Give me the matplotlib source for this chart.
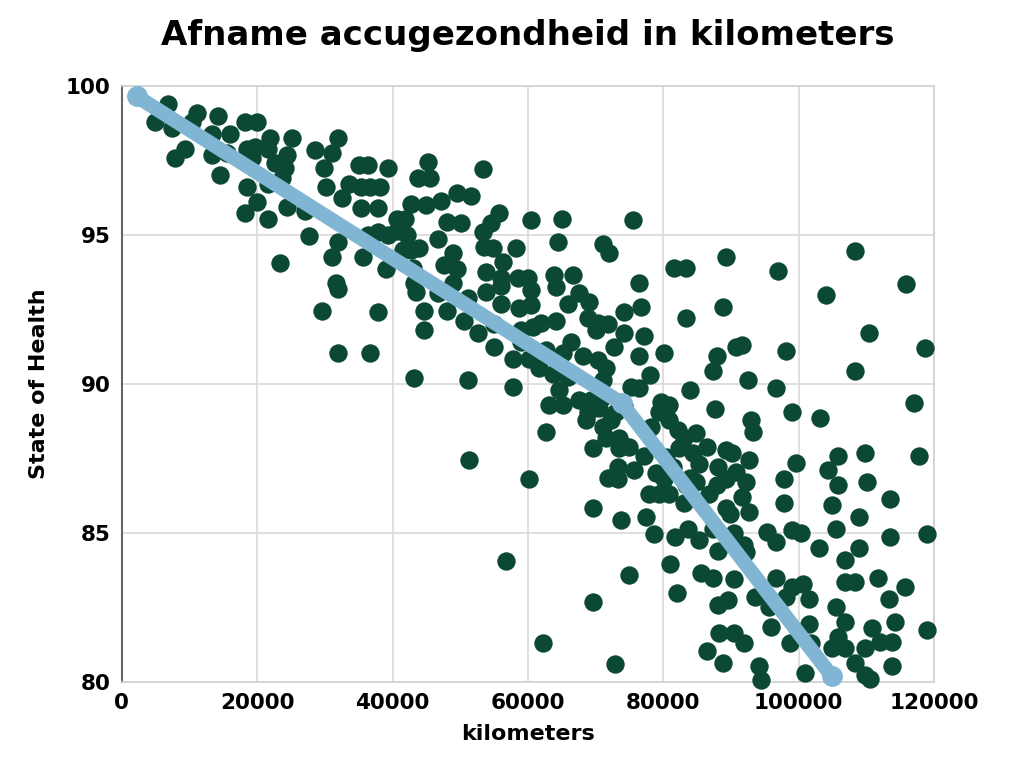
import matplotlib.pyplot as plt

# measured points (kilometers, state of health %)
km = [
    6800, 4900, 7400, 11100, 10400, 9300, 7900, 14200, 13300, 16000,
    13300, 15600, 14500, 18200, 20000, 18500, 19700, 19300, 21900, 21600,
    25200, 24400, 22700, 24100, 23700, 18500, 21600, 20000, 18200, 21600,
    24400, 27100, 28600, 27600, 23400,
    31900, 31100, 29800, 30100, 35000, 36400, 39300, 33500, 32600, 35300,
    36700, 38200, 35300, 37800, 45200, 43700, 45600, 53300, 42700, 44900,
    47100, 49600, 51600, 40700, 41900, 48100, 50100, 55700, 54500, 60400,
    31900, 31100, 35700, 37900, 36400, 39300, 40700, 42200, 41600, 43900,
    42700, 46700, 49000, 47600, 49600, 39000, 43000, 53300, 53500, 54800,
    56300, 58200, 53800, 56000, 58500, 60000, 31600, 43100,
    65000, 75600, 64400, 71100, 72000, 81600, 83300, 89300, 63900, 66700,
    76400, 96900, 108300, 115900,
    31900, 29600, 37800, 31900, 36700, 43400, 44600, 44600, 46700, 49000,
    48100, 50500, 51100, 52600, 53800, 56000, 56000, 58700, 55000, 55000,
    57800, 59000, 59000, 60100, 43100, 51100, 57800, 51300, 60100, 56700,
    60400, 64100, 60400, 65900, 67600, 69000, 76700, 74200, 88900, 83400,
    60700, 61900, 64100, 68900, 70400, 71900, 70100, 74200, 77200, 72700,
    66400, 65200, 68100, 70400, 71600, 76400, 80100, 78100, 87900, 87400,
    90800, 62700, 61600, 63700, 65900, 71100, 75300, 76400, 83900, 64600,
    63100, 65200, 67600, 69300, 71100, 68900, 70500, 73000, 74200, 79700,
    80900, 87600, 79400, 80900, 72300, 71100, 68600, 78200, 82200, 84900,
    62700, 69600, 71600, 73500, 75000, 73500, 77200, 83000, 82400, 84400,
    86400, 89300, 80400, 81500, 85300, 88100, 73300, 75700, 79000, 71900,
    89300, 83900,
    73300, 77900, 79400, 80900, 80100, 83400, 84900, 87900, 86700, 83100,
    89300, 89800, 69600, 73800, 77500, 78700, 81800, 83700, 85300, 87400,
    88100, 81000, 85600, 87400, 90500, 75000, 82100, 88100, 89600, 69600,
    62200, 72900, 88300, 90400, 86400, 88900,
    104100, 110400, 118700, 108300, 91700, 98100, 92600, 96700, 99000, 103100,
    117000, 93000, 93300, 90100, 92700, 99600, 105900, 109800, 117800, 104300,
    90800, 92300, 97800, 105900, 110100,
    113500, 91600, 92700, 97800, 104900, 109000, 105600, 90400, 95300, 96700,
    99000, 100400, 92000, 92300, 103000, 106800, 109000, 113500, 119000, 96700,
    99000, 100700, 101600, 98200, 93500, 95600, 106800, 108300, 111700, 115700,
    113300, 105600, 106800, 92000, 96000, 98700, 101500, 101900, 105900, 104900,
    106800, 109800, 110800, 114200, 112000, 113800, 119000, 94200, 94500, 100900,
    108300, 109800, 110500, 113800,
]
soh = [
    99.4, 98.8, 98.6, 99.1, 98.8, 97.9, 97.6, 99.0, 98.4, 98.4,
    97.7, 97.75, 97.0, 98.8, 98.8, 97.9, 97.95, 97.6, 98.25, 97.9,
    98.25, 97.7, 97.4, 97.25, 96.9, 96.6, 96.7, 96.1, 95.75, 95.55,
    95.95, 95.8, 97.85, 94.95, 94.05,
    98.25, 97.75, 97.25, 96.6, 97.35, 97.35, 97.25, 96.7, 96.25, 96.6,
    96.6, 96.6, 95.9, 95.9, 97.45, 96.9, 96.9, 97.2, 96.05, 96.0,
    96.15, 96.4, 96.3, 95.55, 95.55, 95.45, 95.4, 95.75, 95.4, 95.5,
    94.75, 94.25, 94.25, 95.1, 95.0, 95.0, 95.15, 95.0, 94.5, 94.55,
    94.5, 94.85, 94.4, 94.0, 93.85, 93.85, 93.9, 95.1, 94.6, 94.55,
    94.1, 94.55, 93.75, 93.55, 93.55, 93.55, 93.4, 93.4,
    95.55, 95.5, 94.75, 94.7, 94.4, 93.9, 93.9, 94.25, 93.65, 93.65,
    93.4, 93.8, 94.45, 93.35,
    93.2, 92.45, 92.4, 91.05, 91.05, 93.1, 92.45, 91.8, 93.05, 93.4,
    92.45, 92.1, 92.9, 91.7, 93.1, 92.7, 93.3, 92.55, 92.0, 91.25,
    90.85, 91.8, 91.4, 90.85, 90.2, 90.15, 89.9, 87.45, 86.8, 84.05,
    93.15, 93.25, 92.65, 92.7, 93.05, 92.75, 92.6, 92.4, 92.6, 92.2,
    91.9, 92.05, 92.1, 92.2, 92.05, 92.0, 91.8, 91.7, 91.6, 91.25,
    91.4, 91.05, 90.95, 90.8, 90.55, 90.95, 91.05, 90.3, 90.95, 90.45,
    91.25, 91.15, 90.55, 90.35, 90.25, 90.15, 89.9, 89.85, 89.8, 89.8,
    89.3, 89.3, 89.45, 89.45, 89.55, 89.05, 89.2, 89.05, 89.25, 89.4,
    89.3, 89.15, 89.05, 88.8, 88.8, 88.55, 88.8, 88.55, 88.45, 88.35,
    88.4, 87.85, 88.2, 88.2, 87.9, 87.85, 87.6, 88.2, 87.85, 87.7,
    87.9, 87.8, 87.55, 87.2, 87.3, 87.2, 87.2, 87.1, 87.0, 86.85,
    86.8, 86.85,
    86.8, 86.3, 86.3, 86.3, 86.8, 86.6, 86.7, 86.6, 86.3, 86.0,
    85.85, 85.65, 85.85, 85.45, 85.55, 84.95, 84.85, 85.15, 84.75, 85.15,
    84.4, 83.95, 83.65, 83.5, 83.45, 83.6, 83.0, 82.6, 82.75, 82.7,
    81.3, 80.6, 81.65, 81.65, 81.05, 80.65,
    93.0, 91.7, 91.2, 90.45, 91.3, 91.1, 90.15, 89.85, 89.05, 88.85,
    89.35, 88.8, 88.4, 87.7, 87.45, 87.35, 87.6, 87.7, 87.6, 87.1,
    87.05, 86.7, 86.8, 86.6, 86.7,
    86.15, 86.2, 85.7, 86.0, 85.95, 85.55, 85.15, 85.0, 85.05, 84.7,
    85.1, 85.0, 84.6, 84.35, 84.5, 84.1, 84.5, 84.85, 84.95, 83.5,
    83.2, 83.3, 82.8, 82.85, 82.85, 82.5, 83.35, 83.35, 83.5, 83.2,
    82.8, 82.5, 82.0, 81.3, 81.85, 81.3, 81.95, 81.3, 81.5, 81.15,
    81.15, 81.15, 81.8, 82.0, 81.35, 81.35, 81.75, 80.55, 80.05, 80.3,
    80.65, 80.25, 80.1, 80.55,
]

# trend line
trend_km = [2200, 73900, 104900]
trend_soh = [99.65, 89.35, 80.2]

dot_color = "#0b4935"
line_color = "#80b6d4"

fig = plt.figure(figsize=(10.24, 7.68), dpi=100)
ax = fig.add_axes([0.119, 0.112, 0.793, 0.776])

ax.scatter(km, soh, s=175, color=dot_color, linewidths=0, zorder=3, clip_on=False)
ax.plot(trend_km, trend_soh, color=line_color, linewidth=10.5,
        solid_capstyle="round", solid_joinstyle="round",
        marker="o", markersize=14, zorder=4, clip_on=False)

ax.set_xlim(0, 120000)
ax.set_ylim(80, 100)
ax.set_xticks(range(0, 120001, 20000))
ax.set_yticks(range(80, 101, 5))
ax.grid(True, color="#d9d9d9", linewidth=1.2)
ax.set_axisbelow(True)
ax.tick_params(length=0, labelsize=15.5, pad=8)
for lbl in ax.get_xticklabels() + ax.get_yticklabels():
    lbl.set_fontweight("bold")

for side in ["top", "right", "bottom"]:
    ax.spines[side].set_color("#d0d0d0")
    ax.spines[side].set_linewidth(1.2)
ax.spines["left"].set_color("#666666")
ax.spines["left"].set_linewidth(1.5)

ax.set_xlabel("kilometers", fontsize=16, fontweight="bold", labelpad=8)
ax.set_ylabel("State of Health", fontsize=16, fontweight="bold", labelpad=12)
# title centred over the plot area, not the figure
fig.text(0.5156, 0.954, "Afname accugezondheid in kilometers", fontsize=24.5,
         fontweight="bold", ha="center", va="center")

fig.savefig("out.png", dpi=100)
